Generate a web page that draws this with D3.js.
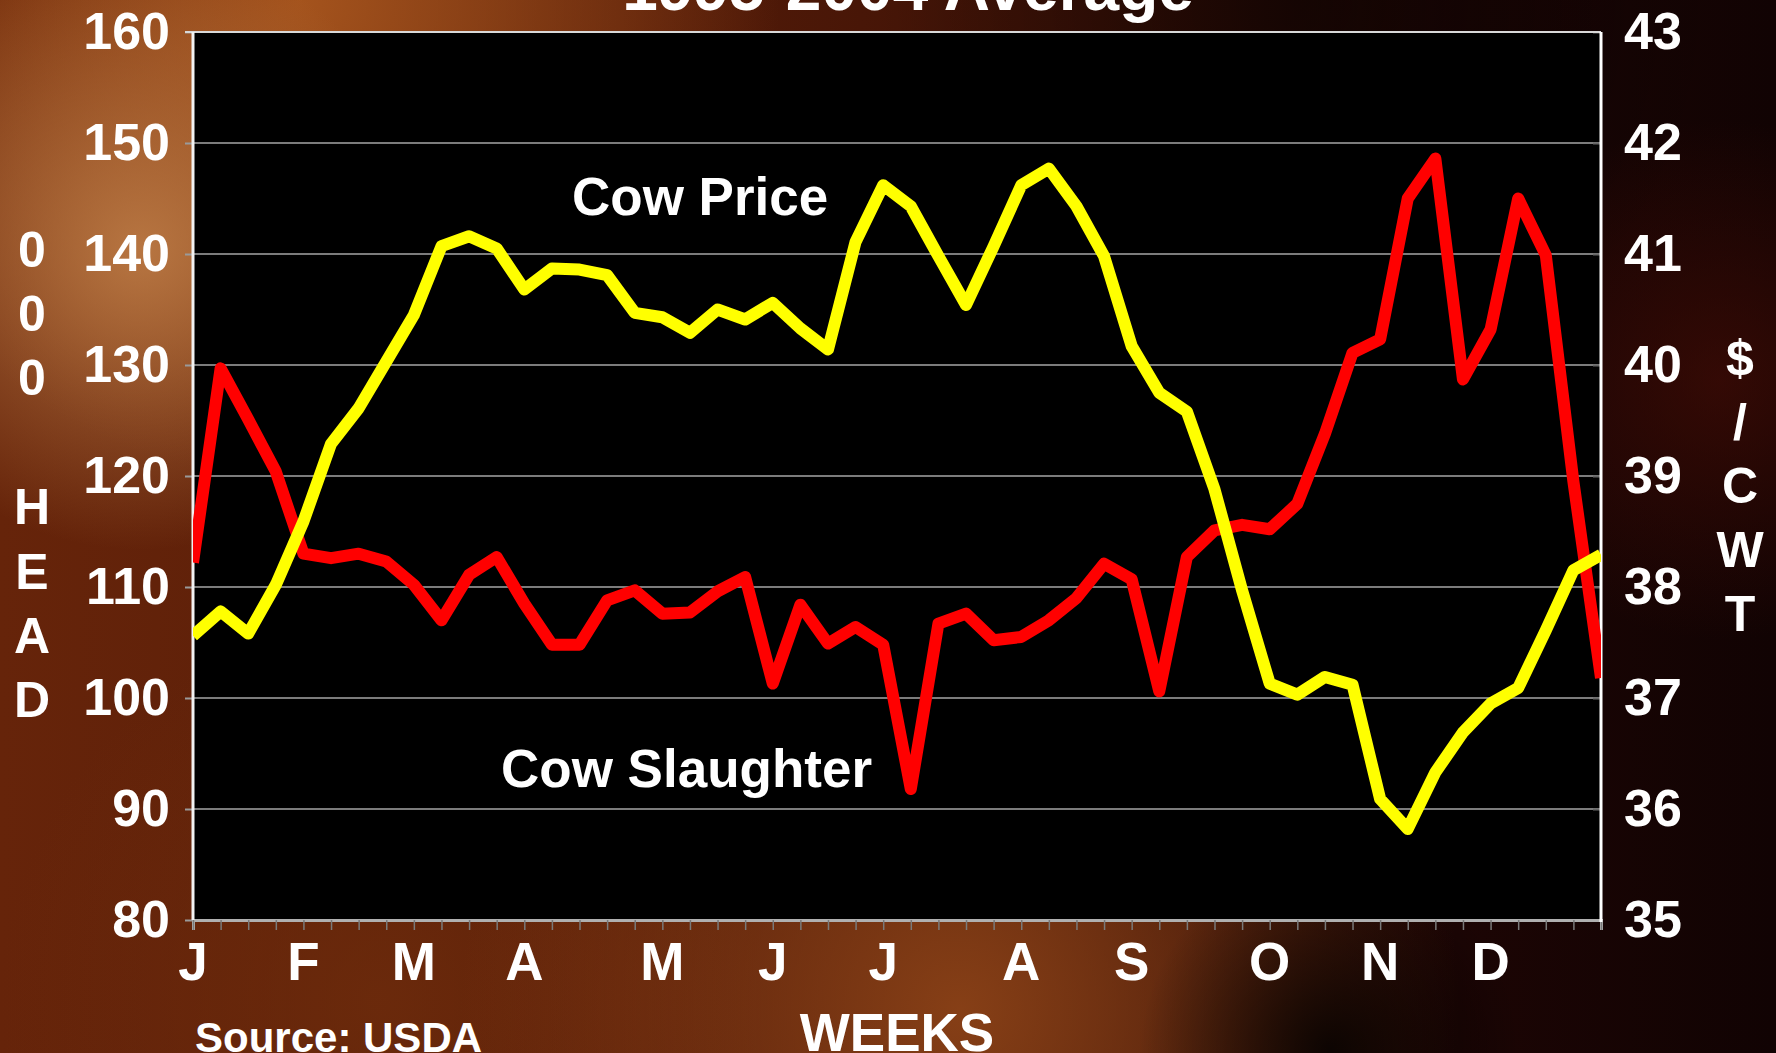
<!DOCTYPE html>
<html>
<head>
<meta charset="utf-8">
<script src="https://cdn.jsdelivr.net/npm/d3@7"></script>
<style>
	html, body { margin: 0; padding: 0; background: #000; overflow: hidden; }
	text { font-family: "Liberation Sans", Arial, sans-serif; font-weight: bold; fill: #fff; }
</style>
</head>
<body>
<div id="chart"></div>
<script>
// DATA
const weeks = d3.range(52);
const monthLabels = ["J", "F", "M", "A", "M", "J", "J", "A", "S", "O", "N", "D"];
const monthWeeks = [0, 4, 8, 12, 17, 21, 25, 30, 34, 39, 43, 47];

// cow slaughter, 000 head (left axis)
const slaughter = [
	112.2, 129.7, 125.1, 120.4, 113.0, 112.6, 113.0, 112.3, 110.2, 107.0,
	111.1, 112.7, 108.5, 104.8, 104.8, 108.8, 109.7, 107.6, 107.7, 109.6,
	110.9, 101.3, 108.4, 104.9, 106.4, 104.8, 91.8, 106.7, 107.6, 105.2,
	105.5, 107.0, 109.0, 112.1, 110.7, 100.6, 112.7, 115.1, 115.6, 115.2,
	117.5, 123.8, 131.1, 132.3, 145.0, 148.6, 128.7, 133.2, 145.0, 139.9,
	119.5, 101.8
];

// cow price, $/cwt (right axis)
const price = [
	37.56, 37.78, 37.58, 38.02, 38.59, 39.29, 39.61, 40.03, 40.45, 41.07,
	41.16, 41.05, 40.68, 40.87, 40.86, 40.81, 40.47, 40.43, 40.29, 40.5,
	40.41, 40.56, 40.33, 40.14, 41.11, 41.62, 41.43, 40.98, 40.54, 41.07,
	41.62, 41.77, 41.43, 40.98, 40.17, 39.75, 39.58, 38.88, 37.97, 37.13,
	37.03, 37.19, 37.12, 36.09, 35.82, 36.33, 36.69, 36.95, 37.09, 37.61,
	38.15, 38.29
];

const leftTicks = [80, 90, 100, 110, 120, 130, 140, 150, 160];
const rightTicks = [35, 36, 37, 38, 39, 40, 41, 42, 43];
const leftTitle = ["0", "0", "0", "", "H", "E", "A", "D"];
const rightTitle = ["$", "/", "C", "W", "T"];

//DIMENSIONS
const width = 1776,
	height = 1053,
	plot = { left: 193, right: 1601, top: 32, bottom: 920 };

const svg = d3
	.select("#chart")
	.append("svg")
	.attr("width", width)
	.attr("height", height);

//BACKGROUND GRADIENTS
const defs = svg.append("defs");

const base = defs.append("linearGradient").attr("id", "bgBase").attr("x1", 0).attr("x2", 1).attr("y1", 0).attr("y2", 0);
[["0%", "#66240a"], ["35%", "#561c08"], ["62%", "#3a1006"], ["82%", "#1c0504"], ["100%", "#110303"]].forEach(s =>
	base.append("stop").attr("offset", s[0]).attr("stop-color", s[1])
);

function radial(id, cx, cy, r, color, op) {
	const g = defs
		.append("radialGradient")
		.attr("id", id)
		.attr("gradientUnits", "userSpaceOnUse")
		.attr("cx", cx)
		.attr("cy", cy)
		.attr("r", r);
	g.append("stop").attr("offset", "0%").attr("stop-color", color).attr("stop-opacity", op);
	g.append("stop").attr("offset", "100%").attr("stop-color", color).attr("stop-opacity", 0);
}
radial("glowTan", 140, 250, 300, "#c2814a", 0.85);
radial("glowTop", 300, 0, 480, "#a8561e", 0.95);
radial("glowBottom", 960, 1010, 500, "#8e4418", 0.9);
radial("glowBottomL", 380, 1000, 380, "#6e2c0c", 0.8);
radial("darkBand", 1330, 1050, 190, "#000000", 0.8);
radial("darkTop", 1300, 0, 420, "#000000", 0.5);
radial("glowRight", 1720, 380, 260, "#4a0e06", 0.6);

svg.append("rect").attr("width", width).attr("height", height).attr("fill", "url(#bgBase)");
["glowTop", "glowTan", "glowBottomL", "glowBottom", "darkBand", "darkTop", "glowRight"].forEach(id =>
	svg.append("rect").attr("width", width).attr("height", height).attr("fill", `url(#${id})`)
);

//SCALES
const x = d3.scalePoint().domain(weeks).range([plot.left, plot.right]).padding(0);
const yLeft = d3.scaleLinear().domain([80, 160]).range([plot.bottom, plot.top]);
const yRight = d3.scaleLinear().domain([35, 43]).range([plot.bottom, plot.top]);

//PLOT AREA
svg
	.append("rect")
	.attr("x", plot.left)
	.attr("y", plot.top)
	.attr("width", plot.right - plot.left)
	.attr("height", plot.bottom - plot.top)
	.attr("fill", "#000");

//GRIDLINES
svg
	.append("g")
	.selectAll("line")
	.data(leftTicks.slice(1, -1))
	.enter()
	.append("line")
	.attr("x1", plot.left)
	.attr("x2", plot.right)
	.attr("y1", d => yLeft(d))
	.attr("y2", d => yLeft(d))
	.style("stroke", "#a6a6a6")
	.style("stroke-width", 1.6);

//LEFT AXIS
const leftAxis = svg
	.append("g")
	.attr("transform", `translate(${plot.left},0)`)
	.call(d3.axisLeft(yLeft).tickValues(leftTicks).tickSize(8).tickPadding(15));
leftAxis.select(".domain").remove();
leftAxis.selectAll(".tick line").style("stroke", "#9a9a9a").style("stroke-width", 2);
leftAxis
	.selectAll(".tick text")
	.style("font-size", "52px")
	.style("font-family", "'Liberation Sans', Arial, sans-serif")
	.style("font-weight", "bold")
	.attr("fill", "#fff");

//RIGHT AXIS
const rightAxis = svg
	.append("g")
	.attr("transform", `translate(${plot.right},0)`)
	.call(d3.axisRight(yRight).tickValues(rightTicks).tickSizeInner(-8).tickSizeOuter(0).tickPadding(23));
rightAxis.select(".domain").remove();
rightAxis.selectAll(".tick line").style("stroke", "#666").style("stroke-width", 2);
rightAxis
	.selectAll(".tick text")
	.style("font-size", "52px")
	.style("font-family", "'Liberation Sans', Arial, sans-serif")
	.style("font-weight", "bold")
	.attr("fill", "#fff");

//BOTTOM AXIS (weekly ticks)
const bottomAxis = svg
	.append("g")
	.attr("transform", `translate(0,${plot.bottom})`)
	.call(d3.axisBottom(x).tickValues(weeks).tickSize(10).tickFormat(""));
bottomAxis.select(".domain").style("stroke", "#b0b0b0").style("stroke-width", 3);
bottomAxis.selectAll(".tick line").style("stroke", "#7a7a7a").style("stroke-width", 1.5);

//MONTH LABELS
svg
	.append("g")
	.selectAll("text")
	.data(monthLabels)
	.enter()
	.append("text")
	.attr("x", (d, i) => x(monthWeeks[i]))
	.attr("y", 980)
	.attr("text-anchor", "middle")
	.style("font-size", "53px")
	.text(d => d);

//FRAME LINES
svg
	.append("line")
	.attr("x1", plot.left - 8)
	.attr("x2", plot.right)
	.attr("y1", plot.top)
	.attr("y2", plot.top)
	.style("stroke", "#d8d8d8")
	.style("stroke-width", 2);
svg
	.append("line")
	.attr("x1", plot.left)
	.attr("x2", plot.left)
	.attr("y1", plot.top)
	.attr("y2", plot.bottom)
	.style("stroke", "#f2f2f2")
	.style("stroke-width", 3);
svg
	.append("line")
	.attr("x1", plot.right)
	.attr("x2", plot.right)
	.attr("y1", plot.top)
	.attr("y2", plot.bottom + 2)
	.style("stroke", "#ffffff")
	.style("stroke-width", 3);

//LINES
defs
	.append("clipPath")
	.attr("id", "plotClip")
	.append("rect")
	.attr("x", plot.left)
	.attr("y", plot.top - 20)
	.attr("width", plot.right - plot.left)
	.attr("height", plot.bottom - plot.top + 40);

const lines = svg.append("g").attr("clip-path", "url(#plotClip)");

lines
	.append("path")
	.datum(slaughter)
	.attr("d", d3.line().x((d, i) => x(weeks[i])).y(d => yLeft(d)))
	.style("fill", "none")
	.style("stroke", "#ff0000")
	.style("stroke-width", 12)
	.style("stroke-linejoin", "round");

lines
	.append("path")
	.datum(price)
	.attr("d", d3.line().x((d, i) => x(weeks[i])).y(d => yRight(d)))
	.style("fill", "none")
	.style("stroke", "#ffff00")
	.style("stroke-width", 12)
	.style("stroke-linejoin", "round");

//SERIES LABELS
svg.append("text").attr("x", 572).attr("y", 215).style("font-size", "53px").text("Cow Price");
svg.append("text").attr("x", 501).attr("y", 787).style("font-size", "53px").text("Cow Slaughter");

//AXIS TITLES (stacked letters)
svg
	.append("g")
	.selectAll("text")
	.data(leftTitle)
	.enter()
	.append("text")
	.attr("x", 32)
	.attr("y", (d, i) => 249 + i * 64.4)
	.attr("dy", "0.35em")
	.attr("text-anchor", "middle")
	.style("font-size", "50px")
	.text(d => d);

svg
	.append("g")
	.selectAll("text")
	.data(rightTitle)
	.enter()
	.append("text")
	.attr("x", 1740)
	.attr("y", (d, i) => 357 + i * 64)
	.attr("dy", "0.35em")
	.attr("text-anchor", "middle")
	.style("font-size", "50px")
	.text(d => d);

svg
	.append("text")
	.attr("x", (plot.left + plot.right) / 2)
	.attr("y", 1051)
	.attr("text-anchor", "middle")
	.style("font-size", "53px")
	.text("WEEKS");

//SOURCE
svg.append("text").attr("x", 195).attr("y", 1052).style("font-size", "42px").text("Source: USDA");

//TITLE (cut off at top edge, as in the slide)
svg
	.append("text")
	.attr("x", 908)
	.attr("y", 10)
	.attr("text-anchor", "middle")
	.style("font-size", "64px")
	.text("1995-2004 Average");
</script>
</body>
</html>
